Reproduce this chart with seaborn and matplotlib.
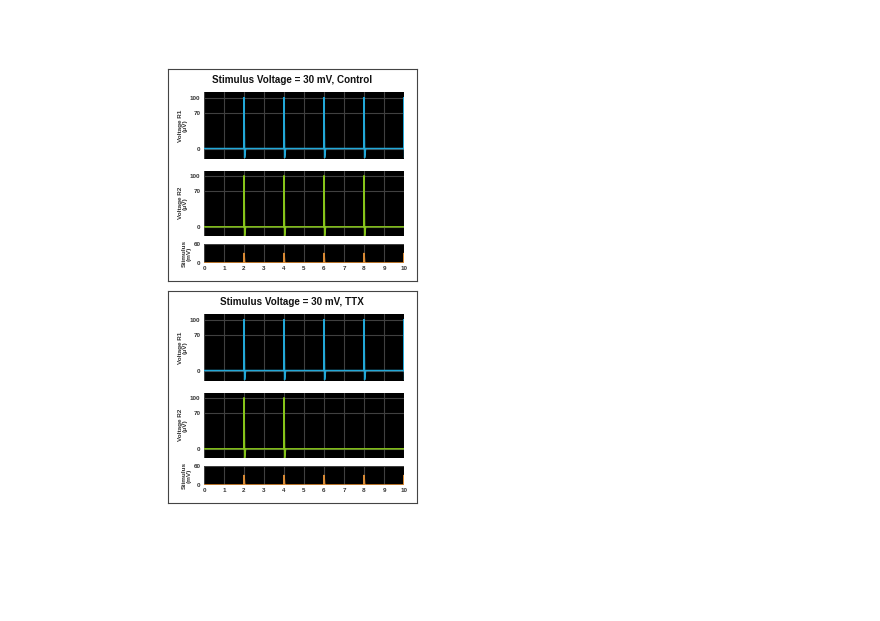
import matplotlib
matplotlib.use("Agg")
import matplotlib.pyplot as plt
import seaborn as sns
import pandas as pd

# data
conditions = ["Control", "TTX"]
stim_voltage_mv = 30
x_ticks = list(range(0, 11))
r_yticks = [0, 70, 100]
stim_yticks = [0, 60]

r1_spikes = {"Control": [2, 4, 6, 8, 10], "TTX": [2, 4, 6, 8, 10]}
r2_spikes = {"Control": [2, 4, 6, 8], "TTX": [2, 4]}
stim_times = [2, 4, 6, 8, 10]

peak_uv = 100
dip_uv = -18
baseline = 0

sns.set_style("white")
plt.rcParams["font.family"] = ["Liberation Sans", "DejaVu Sans"]
plt.rcParams["font.weight"] = "bold"

c_r1 = "#22a8d8"
c_r2 = "#86c41a"
c_stim = "#d98a35"
c_grid = "#404040"
c_text = "#333333"


def spike_trace(spikes, peak, dip):
    t = [0.0]
    v = [baseline]
    for s in spikes:
        t += [s - 0.001, s, s + 0.03, s + 0.08]
        v += [baseline, peak, dip if dip is not None else baseline, baseline]
    t.append(10.0)
    v.append(baseline)
    return pd.DataFrame({"time": t, "value": v})


fig = plt.figure(figsize=(8.8, 6.21), dpi=100)


def px_axes(x0, y0, x1, y1, **kw):
    return fig.add_axes([x0 / 880, 1 - y1 / 621, (x1 - x0) / 880, (y1 - y0) / 621], **kw)


def style_axes(ax, ylim, yticks, show_x):
    ax.set_facecolor("black")
    ax.set_xlim(0, 10)
    ax.set_ylim(*ylim)
    ax.set_xticks(x_ticks)
    ax.set_yticks(yticks)
    ax.grid(True, color=c_grid, lw=0.8)
    ax.set_axisbelow(True)
    for sp in ax.spines.values():
        sp.set_visible(False)
    ax.tick_params(axis="both", length=1.0, width=0.5, pad=1.5, labelsize=4.5,
                   colors=c_text, labelcolor=c_text)
    if show_x:
        ax.set_xticklabels([str(v) for v in x_ticks], fontweight="bold")
    else:
        ax.set_xticklabels([])
        ax.tick_params(axis="x", length=0)
    ax.set_yticklabels([str(v) for v in yticks], fontweight="bold")
    ax.set_xlabel("")


for i, cond in enumerate(conditions):
    dy = i * 222

    # panel frame
    frame = px_axes(168, 69 + dy, 417, 281 + dy, zorder=0)
    frame.set_xticks([])
    frame.set_yticks([])
    for sp in frame.spines.values():
        sp.set_color("#444444")
        sp.set_linewidth(0.8)
    fig.text(292 / 880, 1 - (80 + dy) / 621,
             f"Stimulus Voltage = {stim_voltage_mv} mV, {cond}",
             ha="center", va="center", fontsize=7.1, fontweight="bold", color="#111111")

    ax1 = px_axes(204, 92 + dy, 404, 158.7 + dy)
    sns.lineplot(data=spike_trace(r1_spikes[cond], peak_uv, dip_uv), x="time", y="value",
                 sort=False, estimator=None, color=c_r1, lw=1.1, ax=ax1)
    style_axes(ax1, (-20, 111), r_yticks, False)
    ax1.set_ylabel("Voltage R1\n(\u03bcV)", fontsize=4.6, fontweight="bold",
                   color=c_text, labelpad=1.5, linespacing=1.0)

    ax2 = px_axes(204, 170.7 + dy, 404, 236 + dy)
    sns.lineplot(data=spike_trace(r2_spikes[cond], peak_uv, dip_uv), x="time", y="value",
                 sort=False, estimator=None, color=c_r2, lw=1.1, ax=ax2)
    style_axes(ax2, (-18, 110), r_yticks, False)
    ax2.set_ylabel("Voltage R2\n(\u03bcV)", fontsize=4.6, fontweight="bold",
                   color=c_text, labelpad=1.5, linespacing=1.0)

    ax3 = px_axes(204, 244 + dy, 404, 263 + dy)
    sns.lineplot(data=spike_trace(stim_times, stim_voltage_mv, None), x="time", y="value",
                 sort=False, estimator=None, color=c_stim, lw=1.2, ax=ax3)
    style_axes(ax3, (0, 60), stim_yticks, True)
    ax3.set_ylabel("Stimulus\n(mV)", fontsize=4.6, fontweight="bold",
                   color=c_text, labelpad=1.5, linespacing=1.0)

fig.savefig("out.png", dpi=100, facecolor="white")
